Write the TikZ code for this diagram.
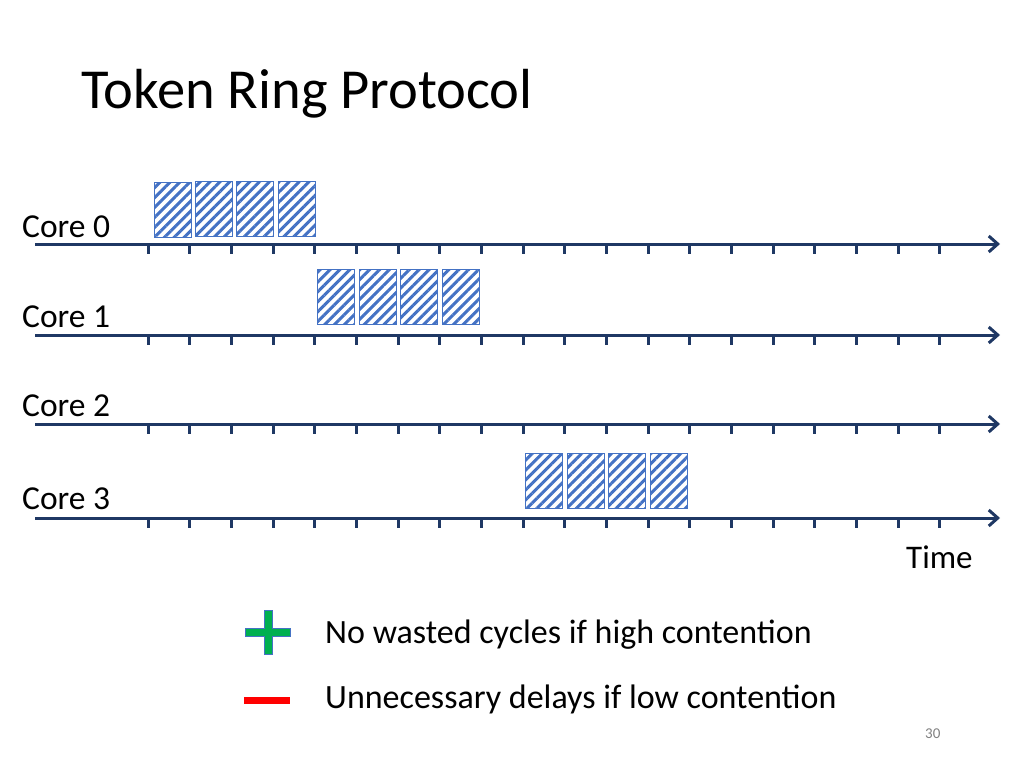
\documentclass[tikz,border=0pt]{standalone}
\usepackage{fontspec}
\setmainfont{Carlito}
\usetikzlibrary{arrows.meta,patterns.meta}
\definecolor{navy}{HTML}{1F3864}
\definecolor{hatch}{HTML}{4472C4}
\definecolor{plusgreen}{HTML}{00B050}
\tikzset{
  timeline/.style={navy,line width=3pt,-{Straight Barb[length=9pt,width=16pt,line width=3pt]}},
  tick/.style={navy,line width=3pt},
  slot/.style={draw=hatch,line width=1.2pt,pattern={Lines[angle=45,distance=7pt,line width=3pt]},pattern color=hatch,minimum width=37pt,minimum height=55pt,inner sep=0pt,anchor=north west},
  corelabel/.style={anchor=base west,inner sep=0pt,font=\fontsize{33.5}{40}\selectfont},
  bullet/.style={anchor=base west,inner sep=0pt,font=\fontsize{34}{40}\selectfont},
}
\begin{document}
\begin{tikzpicture}[x=1pt,y=-1pt]
\useasboundingbox (0,0) rectangle (1024,768);
\node[anchor=base west,inner sep=0pt,font=\fontsize{56.5}{66}\selectfont] (title) at (81,108) {Token Ring Protocol};
% core labels
\node[corelabel] (c0) at (22,237) {Core 0};
\node[corelabel] (c1) at (22,327) {Core 1};
\node[corelabel] (c2) at (22,416) {Core 2};
\node[corelabel] (c3) at (22,509) {Core 3};
% timelines
\foreach \i/\y in {0/244,1/335,2/424,3/518}{
  \coordinate (s\i) at (35,\y);
  \coordinate (e\i) at (1000,\y);
  \draw[timeline] (s\i) -- (e\i);
  \foreach \k in {0,...,19}{
    \draw[tick] (148+41.67*\k,\y) -- ++(0,10);
  }
}
% slots
\foreach \k in {0,...,3}{
  \node[slot] (a\k) at (153+41.5*\k,181) {};
  \node[slot] (b\k) at (317+41.5*\k,269) {};
  \node[slot] (d\k) at (525+41.5*\k,453) {};
}
\node[anchor=base west,inner sep=0pt,font=\fontsize{33}{40}\selectfont] (time) at (906,568) {Time};
% plus
\fill[plusgreen,draw=hatch,line width=0.8pt]
  (264,610) -- (272,610) -- (272,628) -- (290,628) -- (290,636) -- (272,636) -- (272,654) -- (264,654) -- (264,636) -- (245,636) -- (245,628) -- (264,628) -- cycle;
\node[bullet] (pro) at (325,643) {No wasted cycles if high contention};
% minus
\fill[red] (244,697) rectangle (290,704);
\node[bullet] (con) at (325,708) {Unnecessary delays if low contention};
\node[anchor=base west,inner sep=0pt,text=gray,font=\fontsize{15}{18}\selectfont] (page) at (925,738) {30};
\end{tikzpicture}
\end{document}
